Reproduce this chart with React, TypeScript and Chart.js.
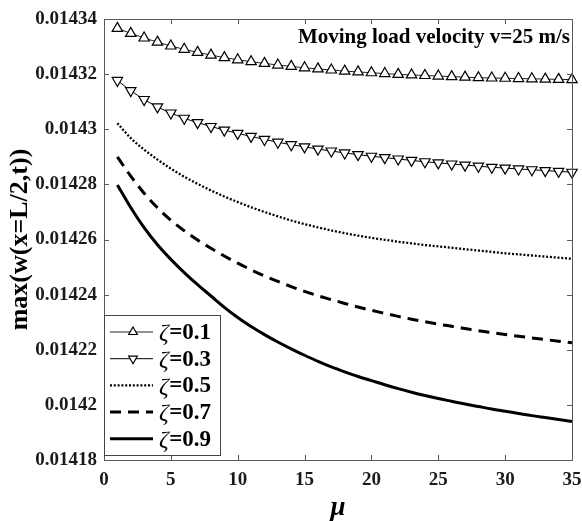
import React, { useEffect, useRef } from 'react';
import { Chart, registerables } from 'chart.js';

Chart.register(...registerables);

const MU = [1, 2, 3, 4, 5, 6, 7, 8, 9, 10, 11, 12, 13, 14, 15, 16, 17, 18, 19, 20, 21, 22, 23, 24, 25, 26, 27, 28, 29, 30, 31, 32, 33, 34, 35];

const Z01 = [0.0143366, 0.0143348, 0.0143331, 0.0143316, 0.0143302, 0.014329, 0.0143279, 0.0143269, 0.014326, 0.0143252, 0.0143245, 0.0143239, 0.0143233, 0.0143228, 0.0143223, 0.0143219, 0.0143215, 0.0143211, 0.0143208, 0.0143205, 0.0143202, 0.0143199, 0.0143197, 0.0143195, 0.0143193, 0.0143191, 0.0143189, 0.0143187, 0.0143186, 0.0143185, 0.0143184, 0.0143183, 0.0143182, 0.0143181, 0.014318];

const Z03 = [0.0143177, 0.014314, 0.0143108, 0.0143081, 0.0143059, 0.014304, 0.0143024, 0.014301, 0.0142997, 0.0142985, 0.0142974, 0.0142963, 0.0142953, 0.0142944, 0.0142936, 0.0142928, 0.0142921, 0.0142914, 0.0142908, 0.0142902, 0.0142897, 0.0142892, 0.0142887, 0.0142882, 0.0142878, 0.0142874, 0.014287, 0.0142866, 0.0142862, 0.0142859, 0.0142856, 0.0142853, 0.014285, 0.0142847, 0.0142844];

const Z05 = [0.0143022, 0.0142968, 0.0142926, 0.014289, 0.0142857, 0.0142828, 0.0142802, 0.0142778, 0.0142756, 0.0142736, 0.0142717, 0.01427, 0.0142684, 0.0142669, 0.0142656, 0.0142644, 0.0142633, 0.0142623, 0.0142614, 0.0142606, 0.0142599, 0.0142592, 0.0142586, 0.014258, 0.0142575, 0.014257, 0.0142565, 0.014256, 0.0142555, 0.014255, 0.0142546, 0.0142542, 0.0142538, 0.0142534, 0.014253];

const Z07 = [0.01429, 0.014283, 0.0142768, 0.0142715, 0.014267, 0.0142632, 0.0142598, 0.0142568, 0.014254, 0.0142514, 0.014249, 0.0142468, 0.0142448, 0.0142429, 0.0142412, 0.0142396, 0.0142382, 0.0142368, 0.0142355, 0.0142343, 0.0142332, 0.0142321, 0.0142311, 0.0142302, 0.0142293, 0.0142285, 0.0142277, 0.0142269, 0.0142262, 0.0142255, 0.0142249, 0.0142243, 0.0142237, 0.0142231, 0.0142225];

const Z09 = [0.0142798, 0.0142716, 0.0142643, 0.0142581, 0.0142528, 0.014248, 0.0142436, 0.0142395, 0.0142354, 0.0142317, 0.0142284, 0.0142255, 0.0142228, 0.0142203, 0.014218, 0.0142158, 0.0142138, 0.014212, 0.0142103, 0.0142088, 0.0142073, 0.0142059, 0.0142046, 0.0142034, 0.0142023, 0.0142013, 0.0142003, 0.0141994, 0.0141985, 0.0141977, 0.0141969, 0.0141961, 0.0141954, 0.0141947, 0.014194];

const ZETA_LABELS = ['0.1', '0.3', '0.5', '0.7', '0.9'];
const X_TICKS = [0, 5, 10, 15, 20, 25, 30, 35];
const Y_TICKS = [0.01418, 0.0142, 0.01422, 0.01424, 0.01426, 0.01428, 0.0143, 0.01432, 0.01434];
const X_TITLE = 'μ';
const Y_TITLE = 'max(w(x=L/2,t))';
const ANNOTATION = 'Moving load velocity v=25 m/s';

const FONT = '"Liberation Serif", "Times New Roman", serif';

const frameAndLegend = {
  id: 'frameAndLegend',
  afterDatasetsDraw(chart: any) {
    const { ctx, chartArea } = chart;
    const { left, right, top, bottom } = chartArea;
    const xs = chart.scales.x;
    const ys = chart.scales.y;
    ctx.save();
    // frame
    ctx.strokeStyle = '#5a5a5a';
    ctx.lineWidth = 1;
    ctx.strokeRect(Math.round(left) + 0.5, Math.round(top) + 0.5, Math.round(right - left), Math.round(bottom - top));
    const tl = 5;
    ctx.beginPath();
    X_TICKS.forEach((v) => {
      const px = Math.round(xs.getPixelForValue(v)) + 0.5;
      ctx.moveTo(px, bottom);
      ctx.lineTo(px, bottom - tl);
      ctx.moveTo(px, top);
      ctx.lineTo(px, top + tl);
    });
    Y_TICKS.forEach((v) => {
      const py = Math.round(ys.getPixelForValue(v)) + 0.5;
      ctx.moveTo(left, py);
      ctx.lineTo(left + tl, py);
      ctx.moveTo(right, py);
      ctx.lineTo(right - tl, py);
    });
    ctx.stroke();

    // annotation
    ctx.fillStyle = '#000';
    ctx.font = 'bold 21px ' + FONT;
    ctx.textAlign = 'right';
    ctx.textBaseline = 'alphabetic';
    ctx.fillText(ANNOTATION, right - 2, 43);

    // legend
    const bx = Math.round(left) + 0.5;
    const by = 315.5;
    const bw = 116;
    const bh = 140;
    ctx.fillStyle = '#fff';
    ctx.fillRect(bx, by, bw, bh);
    ctx.strokeStyle = '#444';
    ctx.lineWidth = 1;
    ctx.strokeRect(bx, by, bw, bh);
    const rowH = 26.7;
    chart.data.datasets.forEach((ds: any, i: number) => {
      const cy = 332 + i * rowH;
      ctx.save();
      ctx.strokeStyle = ds.borderColor;
      ctx.lineWidth = ds.borderWidth;
      ctx.setLineDash(ds.borderDash || []);
      ctx.beginPath();
      ctx.moveTo(110, cy);
      ctx.lineTo(153, cy);
      ctx.stroke();
      ctx.restore();
      if (ds.pointRadius > 0) {
        const r = 5;
        const cx = 133;
        const rot = ((ds.pointRotation || 0) * Math.PI) / 180;
        ctx.save();
        ctx.beginPath();
        for (let k = 0; k < 3; k++) {
          const a = rot + (k * 2 * Math.PI) / 3;
          const px = cx + Math.sin(a) * r;
          const py = cy - Math.cos(a) * r;
          if (k === 0) ctx.moveTo(px, py);
          else ctx.lineTo(px, py);
        }
        ctx.closePath();
        ctx.fillStyle = '#fff';
        ctx.fill();
        ctx.strokeStyle = '#000';
        ctx.lineWidth = 1.2;
        ctx.stroke();
        ctx.restore();
      }
      ctx.fillStyle = '#000';
      ctx.textAlign = 'left';
      ctx.textBaseline = 'middle';
      ctx.font = 'italic 24px ' + FONT;
      const z = 'ζ';
      ctx.fillText(z, 159, cy + 2);
      const zw = ctx.measureText(z).width;
      ctx.font = 'bold 23px ' + FONT;
      ctx.fillText('=' + ZETA_LABELS[i], 159 + zw + 0.5, cy + 1);
    });
    ctx.restore();
  },
};

export default function App() {
  const ref = useRef<HTMLCanvasElement | null>(null);
  useEffect(() => {
    if (!ref.current) return;
    const pts = (arr: number[]) => MU.map((m, i) => ({ x: m, y: arr[i] }));
    const base = {
      fill: false,
      cubicInterpolationMode: 'monotone' as const,
      clip: 12,
      pointHoverRadius: 0,
    };
    const chart = new Chart(ref.current, {
      type: 'line',
      data: {
        datasets: [
          {
            ...base,
            label: 'ζ=' + ZETA_LABELS[0],
            data: pts(Z01),
            borderColor: '#222',
            borderWidth: 1,
            pointStyle: 'triangle',
            pointRotation: 0,
            pointRadius: 6,
            pointBackgroundColor: '#fff',
            pointBorderColor: '#000',
            pointBorderWidth: 1.2,
          },
          {
            ...base,
            label: 'ζ=' + ZETA_LABELS[1],
            data: pts(Z03),
            borderColor: '#000',
            borderWidth: 1,
            pointStyle: 'triangle',
            pointRotation: 180,
            pointRadius: 6,
            pointBackgroundColor: '#fff',
            pointBorderColor: '#000',
            pointBorderWidth: 1.2,
          },
          {
            ...base,
            label: 'ζ=' + ZETA_LABELS[2],
            data: pts(Z05),
            borderColor: '#000',
            borderWidth: 2.3,
            borderDash: [2, 1.8],
            pointRadius: 0,
          },
          {
            ...base,
            label: 'ζ=' + ZETA_LABELS[3],
            data: pts(Z07),
            borderColor: '#000',
            borderWidth: 3,
            borderDash: [11, 7],
            pointRadius: 0,
          },
          {
            ...base,
            label: 'ζ=' + ZETA_LABELS[4],
            data: pts(Z09),
            borderColor: '#000',
            borderWidth: 3,
            pointRadius: 0,
          },
        ],
      },
      options: {
        responsive: false,
        animation: false,
        events: [],
        layout: { padding: { left: 0, right: 10, top: 19, bottom: 0 } },
        plugins: { legend: { display: false }, tooltip: { enabled: false } },
        scales: {
          x: {
            type: 'linear',
            min: 0,
            max: 35,
            afterBuildTicks: (s: any) => {
              s.ticks = X_TICKS.map((v) => ({ value: v }));
            },
            afterFit: (s: any) => {
              s.height = 61;
              s.paddingLeft = 0;
              s.paddingRight = 0;
            },
            grid: { display: false, drawTicks: false },
            border: { display: false },
            ticks: {
              padding: 9,
              maxRotation: 0,
              autoSkip: false,
              color: '#1a1a1a',
              font: { family: FONT, size: 19, weight: 'bold' },
            },
            title: {
              display: true,
              text: X_TITLE,
              color: '#000',
              padding: { top: 0, bottom: -3 },
              font: { family: FONT, size: 27, style: 'italic', weight: 'bold' },
            },
          },
          y: {
            type: 'linear',
            min: 0.01418,
            max: 0.01434,
            afterBuildTicks: (s: any) => {
              s.ticks = Y_TICKS.map((v) => ({ value: v }));
            },
            afterFit: (s: any) => {
              s.width = 104;
              s.paddingTop = 0;
              s.paddingBottom = 0;
            },
            grid: { display: false, drawTicks: false },
            border: { display: false },
            ticks: {
              padding: 7,
              autoSkip: false,
              color: '#1a1a1a',
              font: { family: FONT, size: 19, weight: 'bold' },
              callback: (v: any) => String(parseFloat(Number(v).toFixed(5))),
            },
            title: {
              display: true,
              text: Y_TITLE,
              color: '#000',
              padding: { top: 5, bottom: 0 },
              font: { family: FONT, size: 26, weight: 'bold' },
            },
          },
        },
      },
      plugins: [frameAndLegend],
    } as any);
    return () => chart.destroy();
  }, []);
  return (
    <div style={{ position: 'absolute', left: 0, top: 0, width: 582, height: 521, background: '#fff' }}>
      <canvas ref={ref} width={582} height={521} style={{ display: 'block' }} />
    </div>
  );
}
